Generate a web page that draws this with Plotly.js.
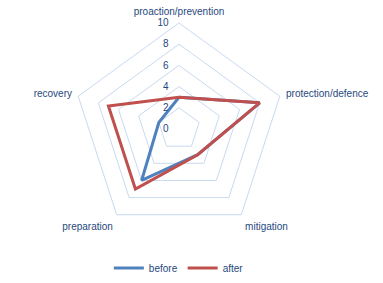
<!DOCTYPE html>
<html><head><meta charset="utf-8">
<script src="https://cdn.plot.ly/plotly-3.0.1.min.js"></script>
<style>html,body{margin:0;padding:0;background:#fff;}#chart{width:383px;height:283px;}</style>
</head><body><div id="chart"></div>
<script>
const categories = ["proaction/prevention", "protection/defence", "mitigation", "preparation", "recovery"];
const beforeValues = [3, 8, 3, 6, 2];
const afterValues = [3, 8, 3, 7, 7];
const seriesNames = ["before", "after"];
const radialTicks = [0, 2, 4, 6, 8, 10];

const closeLoop = a => a.concat([a[0]]);
const textColor = "#1F497D";
const gridColor = "#C9DAF0";
const pad = "\u00A0".repeat(3);

const traces = [
  {type: "scatterpolar", mode: "lines", name: seriesNames[0],
   r: closeLoop(beforeValues), theta: closeLoop(categories),
   line: {color: "#4F81BD", width: 3}},
  {type: "scatterpolar", mode: "lines", name: seriesNames[1],
   r: closeLoop(afterValues), theta: closeLoop(categories),
   line: {color: "#C0504D", width: 3}}
];

const layout = {
  width: 383, height: 283,
  margin: {l: 0, r: 0, t: 0, b: 0},
  paper_bgcolor: "#fff",
  font: {family: "Liberation Sans, Arial, sans-serif", size: 10, color: textColor},
  showlegend: true,
  legend: {orientation: "h", x: 0.467, xanchor: "center", y: 0.053, yanchor: "middle",
           font: {size: 10, color: textColor}, itemwidth: 30, tracegroupgap: 0},
  polar: {
    domain: {x: [73/383, 285/383], y: [1 - 235/283, 1 - 23/283]},
    gridshape: "linear",
    bgcolor: "rgba(0,0,0,0)",
    radialaxis: {range: [0, 10], tickvals: radialTicks, ticktext: radialTicks.map(v => String(v) + pad),
      angle: 90, side: "counterclockwise", tickangle: 90, showline: false, ticks: "",
      gridcolor: gridColor, gridwidth: 1, tickfont: {size: 10, color: textColor}},
    angularaxis: {rotation: 90, direction: "clockwise", showgrid: false,
      showline: true, linecolor: gridColor, linewidth: 1,
      ticks: "outside", ticklen: 4, tickcolor: "rgba(0,0,0,0)",
      tickfont: {size: 10, color: textColor}}
  }
};
Plotly.newPlot("chart", traces, layout, {displayModeBar: false, staticPlot: true});
</script></body></html>
